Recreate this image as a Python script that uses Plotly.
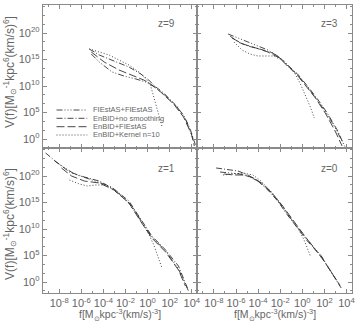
import plotly.graph_objects as go

W, H = 358, 323

# ---------------- data (log10 values) ----------------
series_names = ["FIEstAS+FIEstAS", "EnBID+no smoothing", "EnBID+FIEstAS", "EnBID+Kernel n=10"]
panel_labels = ["z=9", "z=3", "z=1", "z=0"]

# z = 9
z9_fiestas_lf = [-5.10, -4.38, -3.22, -2.14, -1.06, -0.17, 0.64, 1.54, 2.62, 3.52, 4.15]
z9_fiestas_lv = [16.05, 14.55, 12.66, 11.9, 11.34, 10.77, 9.83, 8.32, 6.24, 3.41, -0.17]
z9_nosmooth_lf = [-5.28, -4.38, -3.04, -1.69, -0.61, 0.10, 0.64, 1.45, 2.35, 3.25, 3.88, 4.33]
z9_nosmooth_lv = [17.0, 15.87, 14.73, 13.6, 12.28, 11.15, 10.02, 8.7, 6.81, 4.54, 1.72, -1.11]
z9_enfie_lf = [-5.10, -3.93, -2.59, -1.24, -0.35, 0.28, 1.19, 2.35, 3.25, 3.96, 4.23]
z9_enfie_lv = [16.43, 14.55, 13.04, 11.9, 11.15, 10.39, 8.88, 6.62, 4.17, 0.96, -1.3]
z9_kernel_lf = [-5.28, -4.38, -3.49, -2.59, -1.69, -0.79, -0.07, 0.28, 0.64, 1.00, 1.30]
z9_kernel_lv = [17.0, 16.43, 15.87, 14.92, 13.98, 12.66, 11.15, 10.02, 7.38, 5.11, 2.4]

# z = 3
z3_fiestas_lf = [-6.72, -5.82, -4.92, -4.03, -3.12, -2.23, -1.60, -0.70, 0.20, 1.09, 1.99, 2.89, 3.52, 3.88]
z3_fiestas_lv = [19.83, 19.07, 18.32, 17.56, 16.81, 15.68, 14.55, 12.66, 10.58, 8.13, 5.49, 2.47, 0.02, -1.49]
z3_nosmooth_lf = [-6.54, -5.82, -4.92, -3.85, -2.68, -1.78, -1.16, -0.43, 0.46, 1.37, 2.26, 3.16, 3.70]
z3_nosmooth_lv = [19.45, 18.32, 17.56, 17.0, 16.24, 14.92, 13.6, 12.28, 10.02, 7.57, 4.92, 1.72, -0.74]
z3_enfie_lf = [-6.36, -5.37, -4.20, -3.12, -2.05, -1.34, -0.61, 0.28, 1.19, 2.08, 2.97, 3.60]
z3_enfie_lv = [19.07, 17.94, 17.19, 16.43, 15.3, 13.79, 12.47, 10.21, 7.75, 4.92, 1.53, -1.3]
z3_kernel_lf = [-6.18, -5.46, -4.74, -4.03, -3.31, -2.59, -1.87, -1.34, -0.70, -0.17, 0.28, 0.73, 1.09]
z3_kernel_lv = [18.32, 16.81, 16.05, 15.68, 15.68, 15.68, 14.92, 13.79, 12.47, 10.39, 8.32, 6.06, 3.98]

# z = 1
z1_fiestas_lf = [-8.42, -7.52, -6.63, -5.28, -3.75, -2.59, -1.42, -0.53, 0.38, 1.63, 2.79, 3.70]
z1_fiestas_lv = [22.85, 21.53, 20.39, 19.45, 18.32, 16.62, 14.36, 11.34, 8.51, 5.87, 2.47, -1.68]
z1_nosmooth_lf = [-9.23, -8.15, -7.07, -5.73, -4.38, -3.04, -1.69, -0.53, 0.38, 1.63, 2.79, 3.60]
z1_nosmooth_lv = [24.36, 22.47, 20.77, 19.83, 19.07, 17.56, 15.3, 11.53, 8.7, 6.06, 3.04, -1.11]
z1_enfie_lf = [-7.80, -6.89, -5.73, -4.38, -3.04, -1.69, -0.53, 0.38, 1.63, 2.79, 3.42]
z1_enfie_lv = [21.53, 20.02, 19.07, 18.7, 17.38, 14.92, 11.15, 8.32, 5.68, 2.28, -0.74]
z1_kernel_lf = [-7.07, -6.18, -5.46, -4.74, -4.03, -3.31, -2.59, -1.69, -0.79, -0.35, 0.10, 0.56, 0.91, 1.30]
z1_kernel_lv = [19.26, 18.51, 18.13, 18.32, 18.32, 17.94, 16.81, 14.92, 12.09, 10.58, 9.07, 7.0, 4.92, 2.66]

# z = 0
z0_fiestas_lf = [-7.44, -6.54, -5.64, -4.74, -3.85, -2.94, -2.05, -1.16, -0.25, 0.64, 1.72, 2.62, 3.52]
z0_fiestas_lv = [20.77, 20.58, 20.39, 19.83, 18.89, 17.19, 14.92, 12.28, 9.83, 7.57, 4.92, 1.9, -1.11]
z0_nosmooth_lf = [-7.80, -6.99, -5.82, -4.92, -4.03, -3.12, -2.23, -1.34, -0.43, 0.46, 1.63, 2.53, 3.42]
z0_nosmooth_lv = [21.53, 21.34, 20.96, 20.21, 19.07, 17.38, 15.3, 12.66, 10.21, 7.75, 5.11, 2.09, -0.74]
z0_enfie_lf = [-7.07, -6.18, -5.28, -4.38, -3.57, -2.68, -1.78, -0.88, 0.02, 0.91, 1.90, 2.79, 3.34]
z0_enfie_lv = [20.39, 20.21, 20.21, 19.64, 18.51, 16.62, 14.36, 11.72, 9.26, 6.81, 4.17, 1.34, -0.36]
z0_kernel_lf = [-7.17, -6.26, -5.37, -4.48, -3.85, -2.94, -2.05, -1.16, -0.25, 0.20, 0.46, 0.73]
z0_kernel_lv = [20.21, 20.4, 20.58, 20.21, 19.26, 17.38, 15.11, 12.47, 9.64, 7.75, 6.24, 4.92]

x_tick_exp = [-8, -6, -4, -2, 0, 2, 4]
x_minor_exp = [-9, -7, -5, -3, -1, 1, 3]
y_tick_exp = [0, 5, 10, 15, 20]
y_minor_exp = [-1.6667, 1.6667, 3.3333, 6.6667, 8.3333, 11.6667, 13.3333,
               16.6667, 18.3333, 21.6667, 23.3333, 25]

# ---------------- styling ----------------
FONT = "Liberation Sans, Arial, sans-serif"
TXT = "#666666"
AX = "#8a8a8a"
LINE = "#333333"
dashes = ["6px,2px,1px,2px,1px,2px,1px,2px", "6px,2px,1px,2px", "8px,3px", "1px,2px"]

panels = [
    ("x3", "y3", [(z9_fiestas_lf, z9_fiestas_lv), (z9_nosmooth_lf, z9_nosmooth_lv),
                  (z9_enfie_lf, z9_enfie_lv), (z9_kernel_lf, z9_kernel_lv)]),
    ("x4", "y4", [(z3_fiestas_lf, z3_fiestas_lv), (z3_nosmooth_lf, z3_nosmooth_lv),
                  (z3_enfie_lf, z3_enfie_lv), (z3_kernel_lf, z3_kernel_lv)]),
    ("x", "y", [(z1_fiestas_lf, z1_fiestas_lv), (z1_nosmooth_lf, z1_nosmooth_lv),
                (z1_enfie_lf, z1_enfie_lv), (z1_kernel_lf, z1_kernel_lv)]),
    ("x2", "y2", [(z0_fiestas_lf, z0_fiestas_lv), (z0_nosmooth_lf, z0_nosmooth_lv),
                  (z0_enfie_lf, z0_enfie_lv), (z0_kernel_lf, z0_kernel_lv)]),
]

fig = go.Figure()
for xa, ya, sers in panels:
    for i, (lf, lv) in enumerate(sers):
        fig.add_trace(go.Scatter(
            x=[10.0 ** v for v in lf], y=[10.0 ** v for v in lv],
            xaxis=xa, yaxis=ya, mode="lines", name=series_names[i],
            showlegend=False, line=dict(color=LINE, width=0.9, dash=dashes[i])))

xL = [43 / W, 199 / W]
xR = [199 / W, 355 / W]
yT = [1 - 148 / H, 1 - 5 / H]
yB = [1 - 293 / H, 1 - 148 / H]

def sup(e):
    return "10<sup>%d</sup>" % e

def xaxis(dom, anchor, labels):
    return dict(type="log", domain=dom, anchor=anchor, range=[-9.5, 4.5],
                showline=True, linecolor=AX, linewidth=1, mirror="allticks",
                ticks="inside", ticklen=4, tickcolor=AX, showgrid=False, zeroline=False,
                tickvals=[10.0 ** e for e in x_tick_exp],
                ticktext=[sup(e) for e in x_tick_exp],
                showticklabels=labels, tickangle=0, ticklabelstandoff=0,
                tickfont=dict(family=FONT, size=11, color=TXT),
                minor=dict(tickmode="array", tickvals=[10.0 ** e for e in x_minor_exp],
                           ticks="inside", ticklen=2, tickcolor=AX, showgrid=False))

def yaxis(dom, anchor, labels, rng):
    return dict(type="log", domain=dom, anchor=anchor, range=rng,
                showline=True, linecolor=AX, linewidth=1, mirror="allticks",
                ticks="inside", ticklen=4, tickcolor=AX, showgrid=False, zeroline=False,
                tickvals=[10.0 ** e for e in y_tick_exp],
                ticktext=[sup(e) for e in y_tick_exp],
                showticklabels=labels, tickangle=0,
                tickfont=dict(family=FONT, size=11, color=TXT),
                minor=dict(tickmode="array", tickvals=[10.0 ** e for e in y_minor_exp],
                           ticks="inside", ticklen=2, tickcolor=AX, showgrid=False))

yrT = [-1.68, 25.3]
yrB = [-2.06, 25.3]
fig.update_layout(
    width=W, height=H, margin=dict(l=0, r=0, t=0, b=0),
    paper_bgcolor="white", plot_bgcolor="white", showlegend=False,
    font=dict(family=FONT, color=TXT),
    xaxis=xaxis(xL, "y", True), yaxis=yaxis(yB, "x", True, yrB),
    xaxis2=xaxis(xR, "y2", True), yaxis2=yaxis(yB, "x2", False, yrB),
    xaxis3=xaxis(xL, "y3", False), yaxis3=yaxis(yT, "x3", True, yrT),
    xaxis4=xaxis(xR, "y4", False), yaxis4=yaxis(yT, "x4", False, yrT),
)

ann = []
# panel labels
for (lab, xr, yc) in zip(panel_labels, [178, 343, 178, 343], [24, 24, 168, 168]):
    ann.append(dict(x=xr / W, y=1 - yc / H, xref="paper", yref="paper", text=lab,
                    showarrow=False, xanchor="right", yanchor="middle",
                    font=dict(family=FONT, size=10, color=TXT)))
# axis titles
ytitle = "V(f)[M<sub>⊙</sub><sup>-1</sup>kpc<sup>6</sup>(km/s)<sup>6</sup>]"
xtitle = "f[M<sub>⊙</sub>kpc<sup>-3</sup>(km/s)<sup>-3</sup>]"
for yc in [72, 224]:
    ann.append(dict(x=10 / W, y=1 - yc / H, xref="paper", yref="paper", text=ytitle,
                    showarrow=False, textangle=-90, xanchor="center", yanchor="middle",
                    font=dict(family=FONT, size=12, color=TXT)))
for xc in [121, 277]:
    ann.append(dict(x=xc / W, y=1 - 315 / H, xref="paper", yref="paper", text=xtitle,
                    showarrow=False, xanchor="center", yanchor="middle",
                    font=dict(family=FONT, size=10.5, color=TXT)))
# legend
shapes = []
for i, (name, yr) in enumerate(zip(series_names, [110, 118.3, 126.7, 135])):
    shapes.append(dict(type="line", xref="paper", yref="paper",
                       x0=57 / W, x1=88 / W, y0=1 - yr / H, y1=1 - yr / H,
                       line=dict(color=LINE, width=0.9, dash=dashes[i])))
    ann.append(dict(x=92 / W, y=1 - yr / H, xref="paper", yref="paper", text=name,
                    showarrow=False, xanchor="left", yanchor="middle",
                    font=dict(family=FONT, size=7.5, color=TXT)))
fig.update_layout(annotations=ann, shapes=shapes)

fig.write_html("out.html")
